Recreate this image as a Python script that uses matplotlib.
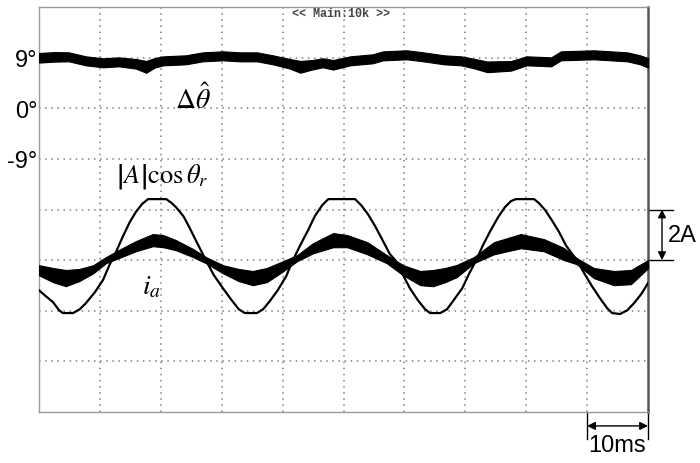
import numpy as np
import matplotlib
matplotlib.use("Agg")
import matplotlib.pyplot as plt

plt.rcParams["mathtext.fontset"] = "stix"
SANS = ["Liberation Sans", "DejaVu Sans"]

# ---- estimated position error (degrees) vs. time (ms) ----
theta_t = [0.0, 2.6, 4.9, 7.7, 10.5, 13.1, 15.9, 17.6, 19.0, 20.4, 24.1, 26.9,
           30.2, 33.0, 35.8, 38.4, 41.2, 42.9, 44.8, 46.6, 48.3, 51.1, 54.8,
           56.5, 60.4, 63.1, 66.5, 69.3, 71.6, 73.6, 77.5, 80.1, 84.1, 85.7,
           91.1, 96.6, 98.7, 100.0]
theta_deg = [8.97, 9.14, 9.14, 8.43, 8.08, 8.25, 7.90, 7.36, 8.08, 8.43, 8.61,
             9.14, 9.32, 9.14, 9.14, 8.61, 7.90, 7.36, 7.72, 8.08, 7.72, 8.43,
             8.79, 9.32, 9.50, 9.14, 8.61, 8.43, 7.90, 7.36, 7.54, 8.43, 8.25,
             9.32, 9.50, 9.14, 8.61, 8.08]
theta_spread = [0.85, 0.85, 0.8, 0.8, 0.8, 0.8, 0.85, 1.05, 0.85, 0.8, 0.8,
                0.8, 0.8, 0.8, 0.8, 0.8, 0.85, 1.05, 0.85, 0.8, 0.85, 0.8,
                0.8, 0.8, 0.8, 0.8, 0.8, 0.8, 0.85, 0.95, 0.85, 0.8, 0.8,
                0.8, 0.8, 0.8, 0.8, 0.85]

# ---- |A| cos(theta_r) reference (A) vs. time (ms) ----
ref_t = [0.0, 1.1, 2.3, 3.3, 3.9, 5.6, 6.7, 7.7, 9.2, 10.5, 11.7, 12.2, 13.8,
         14.9, 15.9, 16.9, 17.9, 20.9, 21.8, 22.5, 23.7, 24.6, 25.9, 27.4,
         28.7, 30.2, 31.5, 32.8, 33.8, 35.8, 36.8, 37.9, 39.2, 40.6, 41.7,
         42.9, 44.2, 45.3, 46.5, 47.5, 51.9, 52.9, 54.0, 55.2, 56.5, 57.6,
         58.5, 59.6, 60.9, 62.2, 63.4, 64.2, 65.9, 67.0, 68.1, 69.5, 70.6,
         71.8, 72.9, 74.1, 75.4, 76.5, 77.5, 78.3, 81.3, 82.1, 83.1, 84.2,
         85.4, 86.5, 88.3, 89.7, 90.8, 92.1, 93.3, 94.1, 95.4, 96.6, 97.7,
         98.9, 100.0]
ref_amp = [-1.19, -1.42, -1.66, -1.98, -2.09, -2.09, -1.94, -1.70, -1.26, -0.79,
           -0.12, 0.08, 0.95, 1.50, 1.90, 2.21, 2.41, 2.41, 2.25, 2.09, 1.74,
           1.34, 0.71, 0.00, -0.59, -1.11, -1.54, -1.94, -2.09, -2.09, -1.94,
           -1.62, -1.19, -0.63, 0.00, 0.59, 1.19, 1.74, 2.17, 2.41, 2.41, 2.17,
           1.82, 1.34, 0.75, 0.24, 0.00, -0.51, -1.11, -1.58, -1.94, -2.09,
           -2.09, -1.94, -1.58, -1.11, -0.55, 0.00, 0.59, 1.15, 1.70, 2.09,
           2.33, 2.41, 2.41, 2.25, 1.98, 1.58, 1.11, 0.59, 0.00, -0.59, -1.03,
           -1.50, -1.90, -2.09, -2.13, -1.98, -1.70, -1.34, -0.91]

# ---- phase current i_a (A) vs. time (ms): band centre and ripple ----
ia_t = [0.0, 2.3, 4.4, 6.6, 8.9, 11.0, 13.1, 15.9, 18.7, 20.4, 22.5, 25.3,
        27.4, 30.2, 32.8, 35.1, 37.4, 40.1, 42.4, 45.0, 48.3, 50.6, 53.9,
        57.1, 59.8, 62.6, 64.7, 66.7, 68.6, 71.4, 74.7, 79.1, 82.9, 86.2,
        88.3, 91.1, 94.4, 97.2, 100.0]
ia_amp = [-0.40, -0.59, -0.71, -0.59, -0.36, 0.00, 0.24, 0.55, 0.79, 0.75,
          0.59, 0.28, 0.00, -0.36, -0.59, -0.71, -0.59, -0.24, 0.08, 0.47,
          0.79, 0.75, 0.47, 0.04, -0.40, -0.71, -0.71, -0.59, -0.43, 0.00,
          0.47, 0.75, 0.59, 0.24, -0.04, -0.51, -0.71, -0.67, -0.16]
ia_ripple = [0.20, 0.28, 0.32, 0.24, 0.16, 0.12, 0.16, 0.20, 0.24, 0.24,
             0.20, 0.16, 0.12, 0.16, 0.24, 0.28, 0.28, 0.20, 0.12, 0.20,
             0.28, 0.24, 0.24, 0.16, 0.20, 0.28, 0.32, 0.28, 0.24, 0.12,
             0.24, 0.28, 0.24, 0.24, 0.12, 0.20, 0.28, 0.28, 0.16]

# scope grid: 10 x 10 ms horizontally, 8 divisions vertically
time_grid = [10, 20, 30, 40, 50, 60, 70, 80, 90]
amp_grid = [-4, -2, 0, 2, 4, 6, 8]          # 2 A / div
deg_ticks = [9, 0, -9]                      # 9 deg / div
deg_labels = ["9°", "0°", "-9°"]

fig = plt.figure(figsize=(7.0, 4.64), dpi=100)
ax = fig.add_axes([39 / 700, 51 / 464, 609 / 700, 405 / 464])
ax.set_xlim(0, 100)
ax.set_ylim(-6, 10)
ax.set_xticks([])
ax.set_yticks([])

grid_kw = dict(color="#7f7f7f", lw=1.1, ls=(0, (1, 3)), zorder=1)
for t in time_grid:
    ax.axvline(t, **grid_kw)
for a in amp_grid:
    ax.axhline(a, **grid_kw)

for side in ("left", "bottom", "top"):
    ax.spines[side].set_color("#9a9a9a")
    ax.spines[side].set_linewidth(1.0)
ax.spines["right"].set_color("#555555")
ax.spines["right"].set_linewidth(1.8)

# current traces
ia_amp_a = np.array(ia_amp)
ia_rip_a = np.array(ia_ripple)
ax.fill_between(ia_t, ia_amp_a - ia_rip_a, ia_amp_a + ia_rip_a,
                color="black", lw=0.8, zorder=3)
ax.plot(ref_t, ref_amp, color="black", lw=1.6, zorder=4)

# angle trace on its own scale
ax2 = ax.twinx()
ax2.set_ylim(-54, 18)
ax2.set_xlim(0, 100)
for s in ax2.spines.values():
    s.set_visible(False)
ax2.yaxis.tick_left()
ax2.set_yticks(deg_ticks)
ax2.set_yticklabels(deg_labels, family=SANS, fontsize=17)
ax2.tick_params(axis="y", length=0, pad=1)
th = np.array(theta_deg)
sp = np.array(theta_spread)
ax2.fill_between(theta_t, th - sp, th + sp, color="black", lw=0.8, zorder=3)

# trace labels
ax2.text(25.3, 1.7, r"$\Delta\hat{\theta}$", fontsize=20, ha="center",
         va="center")
ax.text(20.3, 3.3, r"$\left|A^{}_{}\!\right|\cos\theta_r$", fontsize=19,
        ha="center", va="center")
ax.text(18.4, -1.0, r"$i_a$", fontsize=20, ha="center", va="center")

fig.text(341 / 700, 1 - 14 / 464, "<< Main:10k >>", family="Liberation Mono",
         fontsize=8.5, color="#444444", ha="center", va="center",
         fontweight="bold")

# 2 A scale marker
ax.plot([100, 104.1], [2, 2], color="black", lw=1.0, clip_on=False)
ax.plot([100, 104.1], [0, 0], color="black", lw=1.0, clip_on=False)
ax.annotate("", xy=(102.3, 2), xytext=(102.3, 0),
            arrowprops=dict(arrowstyle="<|-|>", color="black", lw=1.0,
                            mutation_scale=12, shrinkA=0, shrinkB=0),
            annotation_clip=False)
ax.text(103.2, 1.0, "2A", family=SANS, fontsize=17, ha="left", va="center",
        clip_on=False)

# 10 ms scale marker
ax.plot([90, 90], [-6.05, -7.05], color="black", lw=1.0, clip_on=False)
ax.plot([100, 100], [-6.05, -7.05], color="black", lw=1.0, clip_on=False)
ax.annotate("", xy=(90, -6.55), xytext=(100, -6.55),
            arrowprops=dict(arrowstyle="<|-|>", color="black", lw=1.0,
                            mutation_scale=12, shrinkA=0, shrinkB=0),
            annotation_clip=False)
ax.text(94.9, -7.3, "10ms", family=SANS, fontsize=17, ha="center",
        va="center", clip_on=False)

fig.savefig("out.png", dpi=100)
